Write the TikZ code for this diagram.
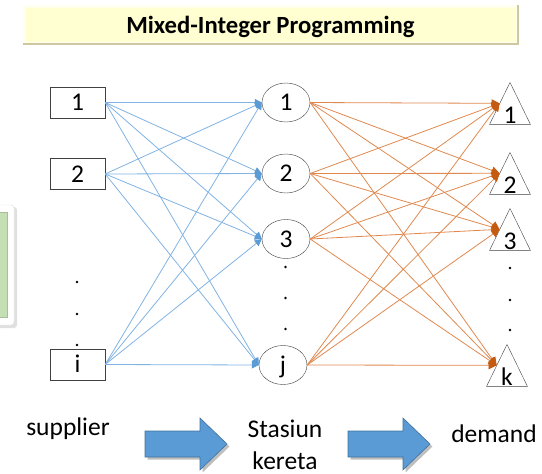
\documentclass[tikz,border=0pt]{standalone}
\usepackage{fontspec}
\setmainfont{Carlito}
\usepackage{tikz}
\usetikzlibrary{shapes,arrows.meta}
\definecolor{bleu}{HTML}{5B9BD5}
\definecolor{bleuclair}{HTML}{80B3E3}
\definecolor{bleufonce}{HTML}{41719C}
\definecolor{orangefonce}{HTML}{C55A11}
\definecolor{orangeclair}{HTML}{E0894F}
\definecolor{jaune}{HTML}{FFFFD2}
\definecolor{jaunebord}{HTML}{CFC7A0}
\definecolor{vert}{HTML}{C5DFB4}

\begin{document}
\begin{tikzpicture}[x=1pt,y=-1pt,
  every node/.style={font=\fontsize{25.5}{30}\selectfont},
  fournisseur/.style={draw=black!75,rectangle,minimum width=55pt,minimum height=31pt,
    inner sep=0pt,text height=16pt,text depth=0pt},
  gare/.style={draw=black!75,ellipse,minimum width=48pt,minimum height=39pt,
    inner sep=0pt,text height=16pt,text depth=0pt},
  demande/.style={draw=black!75,isosceles triangle,isosceles triangle apex angle=52,
    shape border rotate=90,text width=13pt,align=center,text height=16pt,text depth=0pt,
    inner xsep=5.2pt,inner ysep=1pt},
  fleche1/.style={bleuclair,line width=0.8pt,-{Triangle[length=7pt,width=7pt,color=bleu]}},
  fleche2/.style={orangeclair,line width=0.8pt,-{Triangle[length=8pt,width=8pt,color=orangefonce]}}]
\useasboundingbox (0,0) rectangle (542,474);

% cadre vert
\fill[black,opacity=0.12,rounded corners=3pt] (-10,207) rectangle (17,328);
\filldraw[draw=black!12,fill=white,rounded corners=3pt] (-10,205) rectangle (14,325);
\fill[vert!85!black] (-10,212) rectangle (8,318);
\fill[vert] (-10,213) rectangle (6.5,316.5);

% titre
\fill[jaunebord] (22.7,5) rectangle (518.5,45);
\fill[white!60!jaune] (22.7,5) rectangle (517,43);
\fill[jaune] (25.5,7.5) rectangle (516,42);
\node[font=\bfseries\fontsize{24.7}{30}\selectfont,anchor=base] (titre) at (270.5,33) {Mixed-Integer Programming};

% supplier
\node[fournisseur] (s1) at (77.5,102.5) {1};
\node[fournisseur] (s2) at (77.5,174) {2};
\node[fournisseur] (si) at (77.5,364.5) {i};

% stasiun
\node[gare] (g1) at (286,102.5) {1};
\node[gare] (g2) at (286,173.5) {2};
\node[gare] (g3) at (286,239) {3};
\node[gare] (gj) at (283,365) {j};

% demand
\node[demande,anchor=apex] (d1) at (510,82) {1};
\node[demande,anchor=apex] (d2) at (510,152) {2};
\node[demande,anchor=apex] (d3) at (510,208) {3};
\node[demande,anchor=apex] (dk) at (507,344) {k};

\foreach \y in {282,314,345} \fill (77,\y) circle (1.3pt);
\foreach \y in {267,298,329} \fill (285.5,\y) circle (1.3pt);
\foreach \y in {268,300,330} \fill (510,\y) circle (1.3pt);

\foreach \a in {s1,s2,si}
  \foreach \b in {g1,g2,g3,gj}
    \draw[fleche1] (\a.east) -- (\b.west);
\foreach \a in {g1,g2,g3,gj}
  \foreach \b in {d1,d2,d3,dk}
    \draw[fleche2] (\a.east) -- (\b.left side);

% grosses fleches
\foreach \dx in {0,203}
{
  \fill[black,opacity=0.25,shift={(\dx+2.5,2.5)}] (145,431) -- (200,431) -- (200,418) -- (227,444)
    -- (200,470) -- (200,457) -- (145,457) -- cycle;
  \filldraw[fill=bleu,draw=bleufonce,line width=0.6pt,xshift=\dx] (145,431) -- (200,431) -- (200,418)
    -- (227,444) -- (200,470) -- (200,457) -- (145,457) -- cycle;
}

\node[anchor=base] (supplier) at (68,435) {supplier};
\node[anchor=base] (stasiun) at (285,437) {Stasiun};
\node[anchor=base,inner sep=1pt] (kereta) at (285,469) {kereta};
\node[anchor=base] (demand) at (494,442) {demand};
\end{tikzpicture}
\end{document}
